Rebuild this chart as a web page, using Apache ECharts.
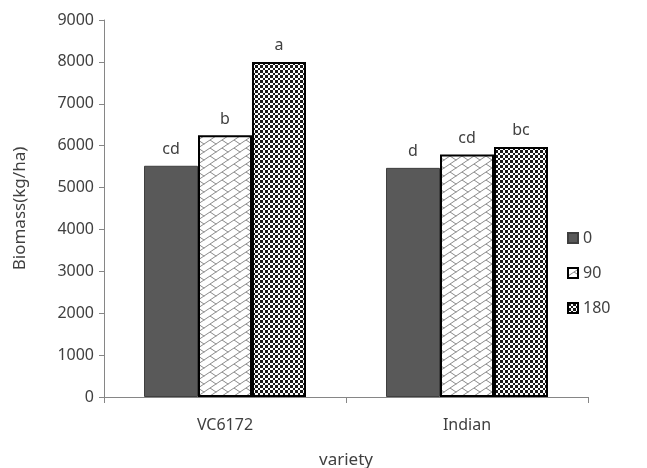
<!DOCTYPE html>
<html>
<head>
<meta charset="utf-8">
<script src="https://cdn.jsdelivr.net/npm/echarts@6/dist/echarts.min.js"></script>
<style>
  html, body { margin: 0; padding: 0; background: #fff; }
  #chart { width: 647px; height: 468px; }
</style>
</head>
<body>
<div id="chart"></div>
<script>
// data
const categories = ['VC6172', 'Indian']
const seriesNames = ['0', '90', '180']
const values0 = [5520, 5470]
const values90 = [6250, 5790]
const values180 = [8000, 5970]
const letters0 = ['cd', 'd']
const letters90 = ['b', 'cd']
const letters180 = ['a', 'bc']

// diagonal brick hatch
function brickPattern() {
  const c = document.createElement('canvas')
  c.width = 12
  c.height = 8
  const ctx = c.getContext('2d')
  ctx.fillStyle = '#ffffff'
  ctx.fillRect(0, 0, 12, 8)
  ctx.strokeStyle = '#8a8a8a'
  ctx.lineWidth = 1
  ctx.beginPath()
  ctx.moveTo(-1.5, 9)
  ctx.lineTo(13.5, -1)
  ctx.moveTo(6, 4)
  ctx.lineTo(13, 8.7)
  ctx.moveTo(-1, -0.7)
  ctx.lineTo(0.5, 0.3)
  ctx.stroke()
  return c
}

// small checkerboard
function checkerPattern() {
  const edges = [0, 3, 5, 8, 10]
  const c = document.createElement('canvas')
  c.width = 10
  c.height = 10
  const ctx = c.getContext('2d')
  ctx.fillStyle = '#ffffff'
  ctx.fillRect(0, 0, 10, 10)
  ctx.fillStyle = '#1a1a1a'
  for (let i = 0; i < 4; i++) {
    for (let j = 0; j < 4; j++) {
      if ((i + j) % 2 === 0) {
        ctx.fillRect(edges[i], edges[j], edges[i + 1] - edges[i], edges[j + 1] - edges[j])
      }
    }
  }
  return c
}

const textColor = '#404040'
const font = 'Noto Sans'

function makeSeries(name, data, letters, itemStyle) {
  return {
    name: name,
    type: 'bar',
    barWidth: 54,
    barGap: '0%',
    data: data,
    itemStyle: itemStyle,
    label: {
      show: true,
      position: 'top',
      distance: 8,
      color: textColor,
      fontFamily: font,
      fontSize: 16,
      formatter: (p) => letters[p.dataIndex]
    }
  }
}

const chart = echarts.init(document.getElementById('chart'), null, { renderer: 'canvas' })
const option = {
  animation: false,
  textStyle: { fontFamily: font },
  grid: {
    left: 104,
    right: 59,
    top: 20,
    bottom: 71,
    outerBoundsMode: 'none'
  },
  legend: {
    orient: 'vertical',
    left: 567,
    top: 230,
    padding: 0,
    itemWidth: 10,
    itemHeight: 10,
    itemGap: 19,
    icon: 'rect',
    data: seriesNames,
    textStyle: { color: textColor, fontSize: 16, fontFamily: font }
  },
  xAxis: {
    type: 'category',
    data: categories,
    name: 'variety',
    nameLocation: 'middle',
    nameGap: 55,
    nameTextStyle: { color: textColor, fontSize: 17, fontFamily: font },
    axisLine: { lineStyle: { color: '#868686', width: 1 } },
    axisTick: { show: true, length: 6, lineStyle: { color: '#868686' } },
    axisLabel: { color: textColor, fontSize: 16, fontFamily: font, margin: 20 }
  },
  yAxis: {
    type: 'value',
    min: 0,
    max: 9000,
    interval: 1000,
    name: 'Biomass(kg/ha)',
    nameLocation: 'middle',
    nameGap: 75,
    nameTextStyle: { color: textColor, fontSize: 17, fontFamily: font },
    axisLine: { show: true, lineStyle: { color: '#868686', width: 1 } },
    axisTick: { show: true, length: 5, lineStyle: { color: '#868686' } },
    axisLabel: {
      color: textColor,
      fontSize: 16,
      fontFamily: font,
      margin: 10,
      formatter: (v) => String(v)
    },
    splitLine: { show: false }
  },
  series: [
    makeSeries(seriesNames[0], values0, letters0, {
      color: '#595959',
      borderColor: '#3f3f3f',
      borderWidth: 1
    }),
    makeSeries(seriesNames[1], values90, letters90, {
      color: { image: brickPattern(), repeat: 'repeat' },
      borderColor: '#000000',
      borderWidth: 2
    }),
    makeSeries(seriesNames[2], values180, letters180, {
      color: { image: checkerPattern(), repeat: 'repeat' },
      borderColor: '#000000',
      borderWidth: 2
    })
  ]
}
chart.setOption(option)
</script>
</body>
</html>
